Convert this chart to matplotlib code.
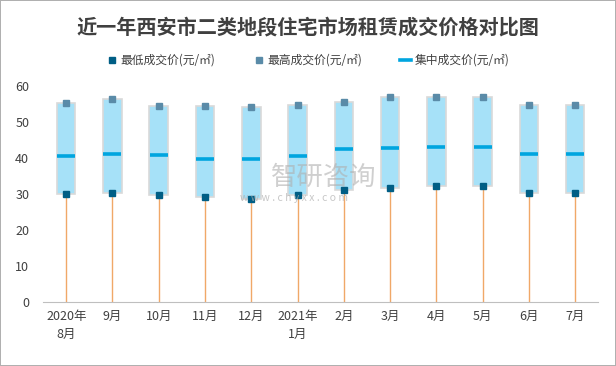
import matplotlib
matplotlib.use('Agg')
import matplotlib.pyplot as plt
import numpy as np

plt.rcParams['font.family'] = ['Noto Sans CJK SC', 'DejaVu Sans']

months = ['2020年\n8月', '9月', '10月', '11月', '12月', '2021年\n1月',
          '2月', '3月', '4月', '5月', '6月', '7月']
low_price = [29.9, 30.2, 29.6, 29.1, 28.5, 29.6, 31.0, 31.8, 32.1, 32.1, 30.2, 30.2]
high_price = [55.2, 56.4, 54.4, 54.4, 54.2, 54.6, 55.5, 56.9, 56.9, 56.9, 54.6, 54.6]
mid_price = [40.5, 41.0, 40.7, 39.6, 39.6, 40.5, 42.4, 42.7, 43.0, 43.0, 41.0, 41.0]

x = np.arange(len(months))
low = np.array(low_price)
high = np.array(high_price)

fig = plt.figure(figsize=(6.16, 3.66), dpi=100, edgecolor='#b0b0b0', linewidth=1.2)
ax = fig.add_axes([0.07, 0.175, 0.901, 0.59])

# drop line from 0 to the low price
ax.vlines(x, 0, low, color='#f0a868', lw=1.0, zorder=1)
# range box low -> high
ax.bar(x, high - low, bottom=low, width=0.4, color='#a6e1f8',
       edgecolor='#d9d9d9', linewidth=1.2, zorder=2)
h_low, = ax.plot(x, low_price, 's', color='#005e85', markersize=5, zorder=4,
                 label='最低成交价(元/㎡)')
h_high, = ax.plot(x, high_price, 's', color='#5a8ba8', markersize=5, zorder=4,
                  label='最高成交价(元/㎡)')
ax.plot(x, mid_price, '_', color='#00a5df', markersize=12.5, mew=2.6, zorder=3)
h_mid, = ax.plot([], [], '-', color='#00a5df', lw=2.6, label='集中成交价(元/㎡)')

ax.set_xlim(-0.5, len(months) - 0.5)
ax.set_ylim(0, 60)
ax.set_yticks(range(0, 61, 10))
ax.set_xticks(x)
ax.set_xticklabels(months, fontsize=9, color='#404040', linespacing=1.5)
ax.tick_params(axis='y', labelsize=9, labelcolor='#404040', length=0, pad=10)
ax.tick_params(axis='x', length=0, pad=6)
for s in ['top', 'right', 'left']:
    ax.spines[s].set_visible(False)
ax.spines['bottom'].set_color('#bfbfbf')

fig.text(0.5, 0.925, '近一年西安市二类地段住宅市场租赁成交价格对比图', ha='center', va='center',
         fontsize=14.5, fontweight='bold', color='#404040')
fig.legend(handles=[h_low, h_high, h_mid], loc='center', bbox_to_anchor=(0.5, 0.835),
           ncol=3, frameon=False, fontsize=8.5, handlelength=0.9, handletextpad=0.3,
           columnspacing=3.2, labelcolor='#404040')

# watermark
fig.text(0.44, 0.515, '智研咨询', fontsize=19, color='#b0b0b0', alpha=0.6,
         ha='left', va='center')
fig.text(0.39, 0.46, 'w w w . c h y x x . c o m', fontsize=7.5, color='#b0b0b0', alpha=0.7,
         ha='left', va='center')

fig.savefig('out.png', dpi=100, edgecolor=fig.get_edgecolor())
